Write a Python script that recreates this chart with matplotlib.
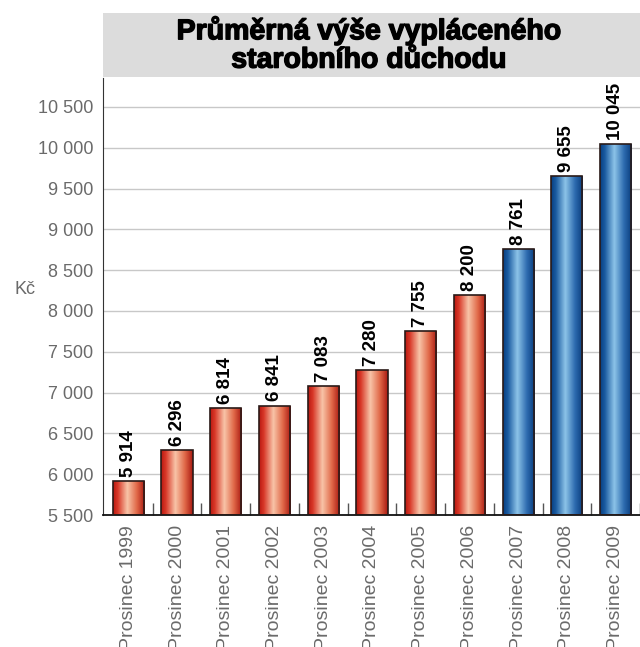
import numpy as np
import matplotlib
matplotlib.use('Agg')
import matplotlib.pyplot as plt
import matplotlib.patheffects as pe
from matplotlib.colors import LinearSegmentedColormap
from matplotlib.patches import Rectangle

plt.rcParams['font.family'] = ['Liberation Sans', 'DejaVu Sans']

labels = ['Prosinec 1999', 'Prosinec 2000', 'Prosinec 2001', 'Prosinec 2002',
          'Prosinec 2003', 'Prosinec 2004', 'Prosinec 2005', 'Prosinec 2006',
          'Prosinec 2007', 'Prosinec 2008', 'Prosinec 2009']
values = [5914, 6296, 6814, 6841, 7083, 7280, 7755, 8200, 8761, 9655, 10045]
groups = ['red'] * 8 + ['blue'] * 3

red_cmap = LinearSegmentedColormap.from_list(
    'red', [(0, '#b81810'), (0.15, '#d83828'), (0.45, '#f8c4a8'), (0.75, '#e06848'), (1, '#a81810')])
blue_cmap = LinearSegmentedColormap.from_list(
    'blue', [(0, '#063e80'), (0.15, '#1a5aa0'), (0.45, '#8cc4e8'), (0.75, '#2e6cb0'), (1, '#083c7c')])

fig = plt.figure(figsize=(6.4, 6.47), dpi=100)
ax = fig.add_axes([103 / 640, 132 / 647, 1 - 103 / 640, (515 - 78) / 647])

x = np.arange(len(values))
base = 5500
bars = ax.bar(x, np.array(values) - base, bottom=base, width=0.64,
              color='none', edgecolor='#2a1a18', linewidth=1.2, zorder=3)

grad = np.linspace(0, 1, 256).reshape(1, -1)
for b, g in zip(bars, groups):
    cm = red_cmap if g == 'red' else blue_cmap
    x0, y0 = b.get_x(), b.get_y()
    im = ax.imshow(grad, cmap=cm, aspect='auto', zorder=2,
                   extent=[x0, x0 + b.get_width(), y0, y0 + b.get_height()])
    im.set_clip_path(b)

for xi, v in zip(x, values):
    txt = f'{v:,}'.replace(',', ' ')
    ax.text(xi, v + 50, txt, rotation=90, ha='center', va='bottom',
            fontsize=13.5, fontweight='bold', color='black', zorder=4)

ax.set_xlim(-0.52, 10.28)
ax.set_ylim(5500, 10855)
yt = np.arange(5500, 10501, 500)
ax.set_yticks(yt)
ax.set_yticklabels([f'{t:,}'.replace(',', ' ') for t in yt], color='#6a6a6a', fontsize=13)
ax.yaxis.grid(True, color='#c8c8c8', linewidth=1, zorder=0)
ax.set_axisbelow(True)
ax.tick_params(axis='y', length=0, pad=7)

ax.set_xticks(x + 0.5, minor=False)
ax.set_xticklabels([])
ax.tick_params(axis='x', direction='in', length=9, color='#555555', width=1)
for xi, lab in zip(x, labels):
    ax.text(xi, 5380, lab, rotation=90, ha='center', va='top',
            fontsize=14, color='#6a6a6a', clip_on=False)

for s in ['top', 'right']:
    ax.spines[s].set_visible(False)
ax.spines['left'].set_color('#333333')
ax.spines['bottom'].set_color('#111111')
ax.spines['bottom'].set_linewidth(1.3)

fig.text(25 / 640, 1 - 290 / 647, 'Kč', color='#6a6a6a', fontsize=13, ha='center', va='center')

fig.patches.append(Rectangle((103 / 640, 1 - 77 / 647), 1 - 103 / 640, 64 / 647,
                             transform=fig.transFigure, facecolor='#dcdcdc', edgecolor='none'))
fig.text(369 / 640, 1 - 45 / 647, 'Průměrná výše vypláceného\nstarobního důchodu',
         ha='center', va='center', fontsize=20.5, fontweight='bold', linespacing=1.12,
         path_effects=[pe.withStroke(linewidth=1.0, foreground='black')])

fig.savefig('out.png', dpi=100)
